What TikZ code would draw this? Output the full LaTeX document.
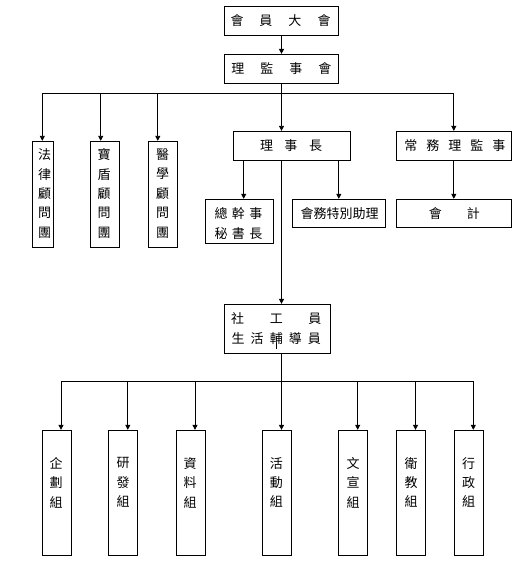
\documentclass[tikz,border=0pt]{standalone}
\usepackage{fontspec}
\newfontfamily\cjk{Noto Sans CJK TC}
\usetikzlibrary{arrows.meta}
\begin{document}
\begin{tikzpicture}[x=1bp,y=-1bp,
  box/.style={draw, line width=0.9bp, inner sep=0pt},
  txt/.style={font=\cjk\fontsize{13bp}{20bp}\selectfont, inner sep=0pt, align=center},
  vtxt/.style={font=\cjk\fontsize{13bp}{19.4bp}\selectfont, inner sep=0pt, align=center},
  ln/.style={line width=0.9bp},
  arr/.style={line width=0.9bp, -{Triangle[length=5bp,width=5bp]}}
]
\fill[white] (0,0) rectangle (525,568);
\useasboundingbox (0,0) rectangle (525,568);

% top boxes
\node[box, minimum width=114.4bp, minimum height=29.3bp] (A) at (281.5,20.7) {};
\node[txt] (At) at (280.5,20.9) {會\hspace{16bp}員\hspace{16bp}大\hspace{16bp}會};
\node[box, minimum width=114.4bp, minimum height=28.7bp] (B) at (281.5,68.7) {};
\node[txt] (Bt) at (281.3,68.9) {理\hspace{16bp}監\hspace{16bp}事\hspace{16bp}會};

% advisory boxes
\node[box, minimum width=21bp, minimum height=106.4bp] (L1) at (42.8,194.5) {};
\node[vtxt] (L1t) at (44.5,193.5) {法\\律\\顧\\問\\團};
\node[box, minimum width=28.6bp, minimum height=106.4bp] (L2) at (105,194.5) {};
\node[vtxt] (L2t) at (104,193.5) {寶\\盾\\顧\\問\\團};
\node[box, minimum width=29bp, minimum height=106.4bp] (L3) at (162.8,194.5) {};
\node[vtxt] (L3t) at (162.5,193.5) {醫\\學\\顧\\問\\團};

% chairman and standing
\node[box, minimum width=116.7bp, minimum height=29bp] (C) at (291.7,145.8) {};
\node[txt] (Ct) at (291,146) {理\hspace{11.5bp}事\hspace{11.5bp}長};
\node[box, minimum width=114.3bp, minimum height=29.3bp] (D) at (453.8,146) {};
\node[txt] (Dt) at (454.8,146) {常\hspace{9bp}務\hspace{9bp}理\hspace{9bp}監\hspace{9bp}事};

% second level
\node[box, minimum width=68bp, minimum height=44.2bp] (E) at (239,221.4) {};
\node[txt] (Et) at (238.5,223) {總\hspace{4.3bp}幹\hspace{4.3bp}事\\秘\hspace{4.3bp}書\hspace{4.3bp}長};
\node[box, minimum width=93.5bp, minimum height=28.2bp] (F) at (338.8,213.4) {};
\node[txt] (Ft) at (339.5,213.6) {會務特別助理};
\node[box, minimum width=114.3bp, minimum height=28.4bp] (G) at (453.8,213.5) {};
\node[txt] (Gt) at (454.3,213.6) {會\hspace{25bp}計};

% social worker
\node[box, minimum width=105.7bp, minimum height=49bp] (H) at (277.2,328.8) {};
\node[txt] (Ht) at (276.3,328.5) {社\hspace{25.7bp}工\hspace{25.7bp}員\\生\hspace{6.1bp}活\hspace{6.1bp}輔\hspace{6.1bp}導\hspace{6.1bp}員};
\draw[line width=1.2bp] ([xshift=-0.5bp,yshift=-14.2bp]H.center) -- ([xshift=-0.5bp,yshift=-20.2bp]H.center);

% groups
\node[box, minimum width=29bp, minimum height=125bp] (M1) at (56.5,492.8) {};
\node[vtxt] (M1t) at (56,482.5) {企\\劃\\組};
\node[box, minimum width=29bp, minimum height=125bp] (M2) at (123.3,492.8) {};
\node[vtxt] (M2t) at (123,482.5) {研\\發\\組};
\node[box, minimum width=29bp, minimum height=125bp] (M3) at (190.5,492.8) {};
\node[vtxt] (M3t) at (190,482.5) {資\\料\\組};
\node[box, minimum width=29bp, minimum height=125bp] (M4) at (276.5,492.8) {};
\node[vtxt] (M4t) at (276.3,482.5) {活\\動\\組};
\node[box, minimum width=29bp, minimum height=125bp] (M5) at (353.2,492.8) {};
\node[vtxt] (M5t) at (353,482.5) {文\\宣\\組};
\node[box, minimum width=29bp, minimum height=125bp] (M6) at (411,492.8) {};
\node[vtxt] (M6t) at (411,482.5) {衛\\教\\組};
\node[box, minimum width=29bp, minimum height=125bp] (M7) at (468.8,492.8) {};
\node[vtxt] (M7t) at (468.5,482.5) {行\\政\\組};

% connectors top
\draw[arr] (A.south) -- (B.north);
\coordinate (j1) at (281.5,93.7);
\draw[ln] (B.south) -- (j1);
\coordinate (l1) at ([xshift=-0.5bp]L1.north);
\coordinate (l2) at ([xshift=-4.3bp]L2.north);
\coordinate (l3) at ([xshift=-5bp]L3.north);
\draw[ln] (j1 -| l1) -- (j1 -| D.north);
\draw[arr] (j1 -| l1) -- (l1);
\draw[arr] (j1 -| l2) -- (l2);
\draw[arr] (j1 -| l3) -- (l3);
\draw[arr] (j1) -- (j1 |- C.north);
\draw[arr] (j1 -| D.north) -- (D.north);

\coordinate (eN) at ([xshift=4.7bp]E.north);
\draw[arr] (C.south -| eN) -- (eN);
\draw[arr] (C.south -| F.north) -- (F.north);
\draw[arr] (D.south) -- (G.north);

\coordinate (j2) at (281.5,381.3);
\draw[arr] (C.south -| j2) -- (H.north -| j2);
\draw[ln] (H.south -| j2) -- (j2);

\coordinate (m1) at ([xshift=4.5bp]M1.north);
\coordinate (m2) at ([xshift=4.5bp]M2.north);
\coordinate (m3) at ([xshift=4.5bp]M3.north);
\coordinate (m4) at ([xshift=5bp]M4.north);
\coordinate (m5) at ([xshift=4.5bp]M5.north);
\coordinate (m6) at ([xshift=4.5bp]M6.north);
\coordinate (m7) at ([xshift=4.5bp]M7.north);
\draw[ln] (j2 -| m1) -- (j2 -| m7);
\foreach \m in {m1,m2,m3,m4,m5,m6,m7}{\draw[arr] (j2 -| \m) -- (\m);}
\end{tikzpicture}
\end{document}
